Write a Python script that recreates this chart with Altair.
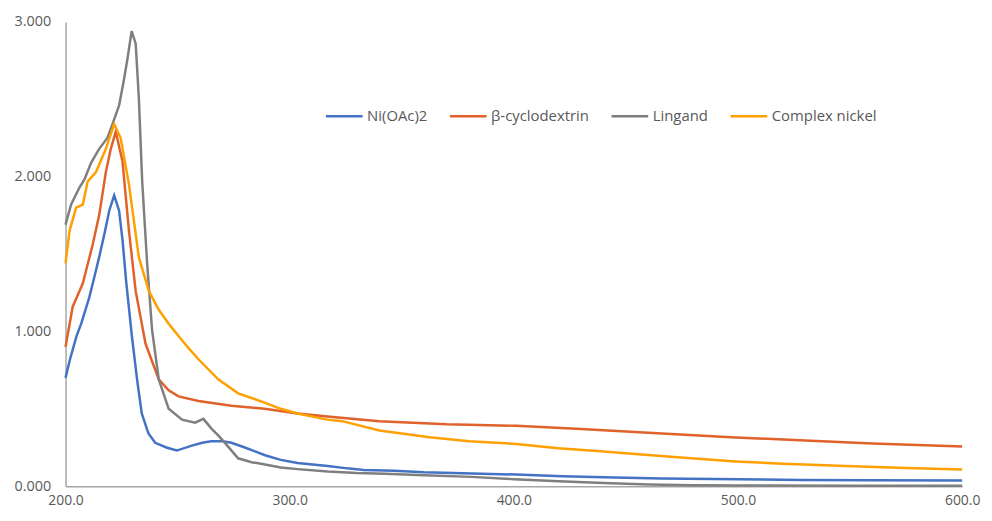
import altair as alt
import pandas as pd

# Ni(OAc)2
ni_x = [200, 202, 204.9, 207, 210.6, 213, 215, 217.5, 219.5, 221.7, 223.9, 225.5, 227, 229.6, 232, 234, 237, 240, 245,
        249.6, 256, 261, 265, 270, 274, 280, 289, 296, 303.5, 317, 325.7, 333, 346.5, 360, 377, 401, 421.7, 440, 466,
        500, 528, 560, 600]
ni_y = [0.70, 0.82, 0.97, 1.05, 1.22, 1.36, 1.48, 1.64, 1.78, 1.88, 1.78, 1.58, 1.33, 0.97, 0.68, 0.47, 0.34, 0.28, 0.25,
        0.23, 0.26, 0.28, 0.29, 0.29, 0.28, 0.25, 0.20, 0.17, 0.15, 0.13, 0.115, 0.105, 0.10, 0.09, 0.083, 0.075, 0.064,
        0.058, 0.05, 0.045, 0.04, 0.038, 0.037]

# beta-cyclodextrin
cd_x = [200, 203.2, 207.7, 212.1, 215, 218, 220.2, 222.4, 225.4, 228.3, 231.3, 235.7, 241.6, 246, 250.4, 259.3, 274,
        288.8, 303.5, 316.8, 340, 370, 401, 430, 460, 498.9, 530, 560, 600]
cd_y = [0.90, 1.16, 1.31, 1.56, 1.75, 2.03, 2.18, 2.29, 2.10, 1.65, 1.26, 0.92, 0.69, 0.62, 0.58, 0.55, 0.52,
        0.50, 0.47, 0.45, 0.42, 0.40, 0.39, 0.37, 0.345, 0.315, 0.295, 0.275, 0.256]

# Lingand
li_x = [200, 202.5, 206.2, 208.4, 211.4, 215, 218.7, 221.7, 223.9, 226.1, 227.6, 229.5, 231.3, 232.7, 234.2, 236.4,
        238.6, 241.6, 246, 252, 257.8, 261.5, 265.2, 268, 271.1, 277, 283, 289, 296, 303.5, 317, 330, 342.5, 360, 381,
        400, 420, 440, 460, 480, 500, 550, 600]
li_y = [1.69, 1.82, 1.93, 1.98, 2.09, 2.18, 2.25, 2.37, 2.46, 2.63, 2.76, 2.94, 2.86, 2.51, 1.97, 1.44,
        1.01, 0.69, 0.50, 0.43, 0.41, 0.435, 0.37, 0.33, 0.28, 0.18, 0.155, 0.14, 0.12, 0.11, 0.095, 0.085, 0.08, 0.07,
        0.06, 0.045, 0.032, 0.02, 0.011, 0.006, 0.004, 0.003, 0.003]

# Complex nickel
cn_x = [200, 201.8, 204.7, 207.7, 209.9, 213.6, 218, 221.7, 224.6, 228.3, 232.7, 237.2, 241.6, 246, 250.4, 255, 259.3,
        268.1, 277, 283, 288.8, 296, 303.5, 316.8, 323.4, 340, 362.4, 380, 401, 420, 440, 470, 499, 520, 548, 575, 600]
cn_y = [1.44, 1.65, 1.80, 1.82, 1.97, 2.03, 2.18, 2.34, 2.25, 1.95, 1.48, 1.26, 1.14, 1.05, 0.97, 0.89, 0.82,
        0.69, 0.60, 0.57, 0.54, 0.50, 0.47, 0.43, 0.42, 0.36, 0.316, 0.29, 0.273, 0.245, 0.224, 0.19, 0.16, 0.145,
        0.13, 0.118, 0.107]

series_names = ["Ni(OAc)2", "β-cyclodextrin", "Lingand", "Complex nickel"]
series_colors = ["#4472C4", "#E0612A", "#7F7F7F", "#FFA000"]
x_ticks = [200, 300, 400, 500, 600]
y_ticks = [0, 1, 2, 3]

rows = []
for name, xs, ys in zip(series_names, [ni_x, cd_x, li_x, cn_x], [ni_y, cd_y, li_y, cn_y]):
    for xv, yv in zip(xs, ys):
        rows.append({"series": name, "wl": xv, "abs": yv})
df = pd.DataFrame(rows)

chart = alt.Chart(df).mark_line(strokeWidth=2.5).encode(
    x=alt.X("wl:Q", scale=alt.Scale(domain=[200, 600], nice=False, zero=False),
            axis=alt.Axis(values=x_ticks, format=".1f", title=None, labelPadding=7, labelFlush=False,
                          labelFontSize=14)),
    y=alt.Y("abs:Q", scale=alt.Scale(domain=[0, 3], nice=False),
            axis=alt.Axis(values=y_ticks, format=".3f", title=None, labelPadding=15, labelFlush=False)),
    color=alt.Color("series:N",
                    scale=alt.Scale(domain=series_names, range=series_colors),
                    legend=alt.Legend(orient="none", legendX=261, legendY=75, direction="horizontal",
                                      columns=4, title=None, symbolType="stroke", symbolSize=1369,
                                      symbolStrokeWidth=2.5, labelFontSize=15, labelColor="#595959",
                                      labelFont="Open Sans", columnPadding=17, labelOffset=3)),
    order=alt.Order("wl:Q"),
).properties(
    width=904, height=468,
    autosize=alt.AutoSizeParams(type="none"),
    padding={"left": 58, "top": 12, "right": 22, "bottom": 25},
).configure_view(stroke=None).configure_axis(
    grid=False, ticks=False, domainColor="#A6A6A6", domainWidth=1.5,
    labelColor="#595959", labelFont="Open Sans", labelFontSize=14.5,
)

chart.save("out.html", embed_options={"renderer": "svg", "actions": False})
